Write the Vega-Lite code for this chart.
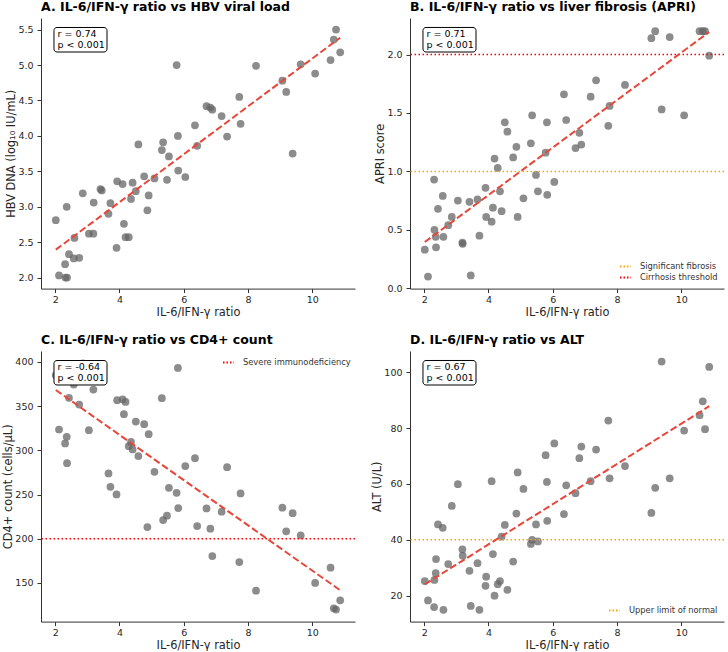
{
  "$schema": "https://vega.github.io/schema/vega-lite/v6.json",
  "padding": {"left": 2, "top": 1, "right": 0, "bottom": 0},
  "config": {
    "font": "DejaVu Sans",
    "view": {"stroke": null},
    "axis": {
      "grid": false,
      "labelFontSize": 9.5,
      "labelColor": "#262626",
      "labelOverlap": false,
      "tickCount": 12,
      "titleFontSize": 11.4,
      "titleFontWeight": "normal",
      "titleColor": "#262626",
      "domainColor": "#333333",
      "tickColor": "#333333",
      "domainWidth": 1,
      "tickWidth": 1,
      "tickSize": 4
    },
    "axisX": {"labelPadding": 2, "titlePadding": 2.5},
    "axisY": {"labelPadding": 4, "titlePadding": 1.2},
    "title": {
      "fontSize": 12.5,
      "fontWeight": "bold",
      "anchor": "start",
      "frame": "group",
      "baseline": "alphabetic",
      "offset": 4.5,
      "color": "#000000"
    },
    "legend": {
      "title": null,
      "labelFontSize": 8.3,
      "labelColor": "#333333",
      "symbolType": "stroke",
      "symbolStrokeWidth": 2,
      "symbolDash": [1.5, 2],
      "symbolSize": 121,
      "labelOffset": 8,
      "rowPadding": 0,
      "padding": 0,
      "offset": 6
    }
  },
  "datasets": {
    "patients": [
      {"ratio": 2.02, "hbv": 2.81, "apri": 0.33, "cd4": 385, "alt": 25.2},
      {"ratio": 2.12, "hbv": 2.03, "apri": 0.10, "cd4": 323.6, "alt": 18.3},
      {"ratio": 2.31, "hbv": 2.19, "apri": 0.93, "cd4": 307.8, "alt": 15.9},
      {"ratio": 2.32, "hbv": 2.00, "apri": 0.50, "cd4": 392, "alt": 25.6},
      {"ratio": 2.36, "hbv": 3.00, "apri": 0.44, "cd4": 315.3, "alt": 28.1},
      {"ratio": 2.37, "hbv": 2.00, "apri": 0.35, "cd4": 285.5, "alt": 33.1},
      {"ratio": 2.43, "hbv": 2.33, "apri": 0.68, "cd4": 359.5, "alt": 45.5},
      {"ratio": 2.58, "hbv": 2.27, "apri": 0.79, "cd4": 374.4, "alt": 44.3},
      {"ratio": 2.60, "hbv": 2.56, "apri": 0.44, "cd4": 381, "alt": 14.9},
      {"ratio": 2.75, "hbv": 2.28, "apri": 0.54, "cd4": 351.8, "alt": 31.3},
      {"ratio": 2.86, "hbv": 3.19, "apri": 0.61, "cd4": 398.5, "alt": 52.1},
      {"ratio": 3.05, "hbv": 2.62, "apri": 0.75, "cd4": 322.8, "alt": 59.9},
      {"ratio": 3.19, "hbv": 2.62, "apri": 0.39, "cd4": 368.8, "alt": 36.6},
      {"ratio": 3.20, "hbv": 3.06, "apri": 0.38, "cd4": 388, "alt": 34.3},
      {"ratio": 3.41, "hbv": 3.25, "apri": 0.74, "cd4": 383, "alt": 28.9},
      {"ratio": 3.45, "hbv": 3.23, "apri": 0.11, "cd4": 395, "alt": 16.3},
      {"ratio": 3.66, "hbv": 2.90, "apri": 0.76, "cd4": 273.9, "alt": 31.6},
      {"ratio": 3.72, "hbv": 3.05, "apri": 0.45, "cd4": 258.8, "alt": 14.9},
      {"ratio": 3.91, "hbv": 2.42, "apri": 0.86, "cd4": 250.2, "alt": 23.5},
      {"ratio": 3.93, "hbv": 3.36, "apri": 0.61, "cd4": 356.7, "alt": 26.8},
      {"ratio": 4.10, "hbv": 3.32, "apri": 0.57, "cd4": 357.8, "alt": 61.0},
      {"ratio": 4.14, "hbv": 2.76, "apri": 0.69, "cd4": 340.9, "alt": 34.9},
      {"ratio": 4.19, "hbv": 2.57, "apri": 1.11, "cd4": 354.8, "alt": 20.0},
      {"ratio": 4.29, "hbv": 2.57, "apri": 1.03, "cd4": 304.7, "alt": 24.1},
      {"ratio": 4.36, "hbv": 3.11, "apri": 0.83, "cd4": 309.6, "alt": 25.2},
      {"ratio": 4.41, "hbv": 3.34, "apri": 0.66, "cd4": 301.0, "alt": 41.1},
      {"ratio": 4.51, "hbv": 3.22, "apri": 1.42, "cd4": 332.6, "alt": 45.3},
      {"ratio": 4.59, "hbv": 3.88, "apri": 1.34, "cd4": 293.5, "alt": 22.1},
      {"ratio": 4.77, "hbv": 3.43, "apri": 1.12, "cd4": 329.6, "alt": 32.2},
      {"ratio": 4.87, "hbv": 2.95, "apri": 1.21, "cd4": 213.3, "alt": 49.4},
      {"ratio": 4.91, "hbv": 3.16, "apri": 0.61, "cd4": 318.3, "alt": 64.1},
      {"ratio": 5.09, "hbv": 3.40, "apri": 0.77, "cd4": 275.8, "alt": 58.2},
      {"ratio": 5.32, "hbv": 3.80, "apri": 1.24, "cd4": 359.0, "alt": 38.5},
      {"ratio": 5.36, "hbv": 3.91, "apri": 1.48, "cd4": 221.2, "alt": 40.0},
      {"ratio": 5.48, "hbv": 3.38, "apri": 0.97, "cd4": 226.1, "alt": 45.5},
      {"ratio": 5.54, "hbv": 3.71, "apri": 0.83, "cd4": 257.7, "alt": 39.4},
      {"ratio": 5.78, "hbv": 5.00, "apri": 1.16, "cd4": 252.0, "alt": 70.3},
      {"ratio": 5.82, "hbv": 4.00, "apri": 1.42, "cd4": 393.2, "alt": 60.7},
      {"ratio": 5.83, "hbv": 3.51, "apri": 0.80, "cd4": 234.7, "alt": 46.8},
      {"ratio": 6.05, "hbv": 3.42, "apri": 0.91, "cd4": 282.2, "alt": 74.5},
      {"ratio": 6.35, "hbv": 4.15, "apri": 1.66, "cd4": 291.2, "alt": 49.2},
      {"ratio": 6.42, "hbv": 3.86, "apri": 1.44, "cd4": 214.4, "alt": 59.5},
      {"ratio": 6.71, "hbv": 4.42, "apri": 1.20, "cd4": 234.3, "alt": 56.7},
      {"ratio": 6.83, "hbv": 4.40, "apri": 1.33, "cd4": 211.4, "alt": 69.2},
      {"ratio": 6.89, "hbv": 4.37, "apri": 1.23, "cd4": 180.5, "alt": 73.4},
      {"ratio": 7.18, "hbv": 4.28, "apri": 1.64, "cd4": 230.6, "alt": 61.0},
      {"ratio": 7.35, "hbv": 3.99, "apri": 1.78, "cd4": 281.0, "alt": 72.3},
      {"ratio": 7.73, "hbv": 4.55, "apri": 1.39, "cd4": 173.7, "alt": 82.7},
      {"ratio": 7.77, "hbv": 4.17, "apri": 1.56, "cd4": 251.3, "alt": 62.0},
      {"ratio": 8.25, "hbv": 4.99, "apri": 1.74, "cd4": 141.3, "alt": 66.4},
      {"ratio": 9.07, "hbv": 4.78, "apri": 2.14, "cd4": 235.1, "alt": 49.6},
      {"ratio": 9.19, "hbv": 4.62, "apri": 2.20, "cd4": 208.4, "alt": 58.6},
      {"ratio": 9.39, "hbv": 3.75, "apri": 1.53, "cd4": 229.0, "alt": 103.8},
      {"ratio": 9.64, "hbv": 5.01, "apri": 2.15, "cd4": 203.8, "alt": 62.0},
      {"ratio": 10.09, "hbv": 4.88, "apri": 1.48, "cd4": 150.0, "alt": 79.1},
      {"ratio": 10.57, "hbv": 5.07, "apri": 2.20, "cd4": 167.3, "alt": 84.6},
      {"ratio": 10.67, "hbv": 5.36, "apri": 2.20, "cd4": 121.4, "alt": 89.6},
      {"ratio": 10.74, "hbv": 5.50, "apri": 2.20, "cd4": 119.9, "alt": 79.6},
      {"ratio": 10.87, "hbv": 5.18, "apri": 1.99, "cd4": 130.4, "alt": 101.9}
    ]
  },
  "columns": 2,
  "spacing": {"row": 62, "column": 55},
  "bounds": "flush",
  "resolve": {
    "scale": {"x": "independent", "y": "independent", "color": "independent"},
    "axis": {"x": "independent", "y": "independent"},
    "legend": {"color": "independent"}
  },
  "concat": [
    {
      "title": "A. IL-6/IFN-γ ratio vs HBV viral load",
      "width": 314,
      "height": 270.6,
      "layer": [
        {
          "data": {"name": "patients"},
          "mark": {"type": "circle", "size": 60, "color": "#666666", "opacity": 0.75},
          "encoding": {
            "x": {"field": "ratio", "type": "quantitative", "title": "IL-6/IFN-γ ratio", "scale": {"domain": [1.56, 11.33], "nice": false, "zero": false}, "axis": {"values": [2, 4, 6, 8, 10]}},
            "y": {"field": "hbv", "type": "quantitative", "title": "HBV DNA (log₁₀ IU/mL)", "scale": {"domain": [1.845, 5.664], "nice": false, "zero": false}, "axis": {"values": [2, 2.5, 3, 3.5, 4, 4.5, 5, 5.5], "format": ".1f", "tickCount": 12}}
          }
        },
        {
          "data": {"name": "patients"},
          "transform": [{"regression": "hbv", "on": "ratio"}],
          "mark": {"type": "line", "color": "#e8463a", "strokeWidth": 2, "strokeDash": [7, 3]},
          "encoding": {
            "x": {"field": "ratio", "type": "quantitative", "title": "IL-6/IFN-γ ratio", "scale": {"domain": [1.56, 11.33], "nice": false, "zero": false}},
            "y": {"field": "hbv", "type": "quantitative", "title": "HBV DNA (log₁₀ IU/mL)", "scale": {"domain": [1.845, 5.664], "nice": false, "zero": false}}
          }
        },
        {
          "data": {"values": [{}]},
          "mark": {"type": "rect", "fill": "white", "stroke": "black", "strokeWidth": 1, "cornerRadius": 3},
          "encoding": {"x": {"datum": 1.964}, "x2": {"datum": 3.614}, "y": {"datum": 5.530}, "y2": {"datum": 5.184}}
        },
        {
          "data": {"values": [{}]},
          "mark": {"type": "text", "align": "left", "baseline": "middle", "fontSize": 9.5, "lineHeight": 10.7, "color": "#000000", "text": ["r = 0.74", "p < 0.001"]},
          "encoding": {"x": {"datum": 2.073}, "y": {"datum": 5.438}}
        }
      ]
    },
    {
      "title": "B. IL-6/IFN-γ ratio vs liver fibrosis (APRI)",
      "width": 314,
      "height": 270.6,
      "layer": [
        {
          "data": {"name": "patients"},
          "mark": {"type": "circle", "size": 60, "color": "#666666", "opacity": 0.75},
          "encoding": {
            "x": {"field": "ratio", "type": "quantitative", "title": "IL-6/IFN-γ ratio", "scale": {"domain": [1.56, 11.33], "nice": false, "zero": false}, "axis": {"values": [2, 4, 6, 8, 10]}},
            "y": {"field": "apri", "type": "quantitative", "title": "APRI score", "scale": {"domain": [-0.003, 2.313], "nice": false, "zero": false}, "axis": {"values": [0, 0.5, 1, 1.5, 2], "format": ".1f"}}
          }
        },
        {
          "data": {"values": [
            {"threshold": 1.0, "label": "Significant fibrosis"},
            {"threshold": 2.0, "label": "Cirrhosis threshold"}
          ]},
          "mark": {"type": "rule", "strokeWidth": 1.5, "strokeDash": [1.5, 2.5]},
          "encoding": {
            "y": {"field": "threshold", "type": "quantitative", "title": "APRI score", "scale": {"domain": [-0.003, 2.313], "nice": false, "zero": false}},
            "color": {"field": "label", "type": "nominal", "scale": {"domain": ["Significant fibrosis", "Cirrhosis threshold"], "range": ["#ffa500", "#ff0000"]}, "legend": {"orient": "bottom-right", "offset": 6.5}}
          }
        },
        {
          "data": {"name": "patients"},
          "transform": [{"regression": "apri", "on": "ratio"}],
          "mark": {"type": "line", "color": "#e8463a", "strokeWidth": 2, "strokeDash": [7, 3]},
          "encoding": {
            "x": {"field": "ratio", "type": "quantitative", "title": "IL-6/IFN-γ ratio", "scale": {"domain": [1.56, 11.33], "nice": false, "zero": false}},
            "y": {"field": "apri", "type": "quantitative", "title": "APRI score", "scale": {"domain": [-0.003, 2.313], "nice": false, "zero": false}}
          }
        },
        {
          "data": {"values": [{}]},
          "mark": {"type": "rect", "fill": "white", "stroke": "black", "strokeWidth": 1, "cornerRadius": 3},
          "encoding": {"x": {"datum": 1.964}, "x2": {"datum": 3.614}, "y": {"datum": 2.232}, "y2": {"datum": 2.022}}
        },
        {
          "data": {"values": [{}]},
          "mark": {"type": "text", "align": "left", "baseline": "middle", "fontSize": 9.5, "lineHeight": 10.7, "color": "#000000", "text": ["r = 0.71", "p < 0.001"]},
          "encoding": {"x": {"datum": 2.073}, "y": {"datum": 2.176}}
        }
      ]
    },
    {
      "title": "C. IL-6/IFN-γ ratio vs CD4+ count",
      "width": 314,
      "height": 270.6,
      "layer": [
        {
          "data": {"name": "patients"},
          "mark": {"type": "circle", "size": 60, "color": "#666666", "opacity": 0.75},
          "encoding": {
            "x": {"field": "ratio", "type": "quantitative", "title": "IL-6/IFN-γ ratio", "scale": {"domain": [1.56, 11.33], "nice": false, "zero": false}, "axis": {"values": [2, 4, 6, 8, 10]}},
            "y": {"field": "cd4", "type": "quantitative", "title": "CD4+ count (cells/μL)", "scale": {"domain": [106.3, 412.4], "nice": false, "zero": false}, "axis": {"values": [150, 200, 250, 300, 350, 400]}}
          }
        },
        {
          "data": {"values": [{"threshold": 200, "label": "Severe immunodeficiency"}]},
          "mark": {"type": "rule", "strokeWidth": 1.5, "strokeDash": [1.5, 2.5]},
          "encoding": {
            "y": {"field": "threshold", "type": "quantitative", "title": "CD4+ count (cells/μL)", "scale": {"domain": [106.3, 412.4], "nice": false, "zero": false}},
            "color": {"field": "label", "type": "nominal", "scale": {"domain": ["Severe immunodeficiency"], "range": ["#ff0000"]}, "legend": {"orient": "top-right", "offset": 4.5}}
          }
        },
        {
          "data": {"name": "patients"},
          "transform": [{"regression": "cd4", "on": "ratio"}],
          "mark": {"type": "line", "color": "#e8463a", "strokeWidth": 2, "strokeDash": [7, 3]},
          "encoding": {
            "x": {"field": "ratio", "type": "quantitative", "title": "IL-6/IFN-γ ratio", "scale": {"domain": [1.56, 11.33], "nice": false, "zero": false}},
            "y": {"field": "cd4", "type": "quantitative", "title": "CD4+ count (cells/μL)", "scale": {"domain": [106.3, 412.4], "nice": false, "zero": false}}
          }
        },
        {
          "data": {"values": [{}]},
          "mark": {"type": "rect", "fill": "white", "stroke": "black", "strokeWidth": 1, "cornerRadius": 3},
          "encoding": {"x": {"datum": 1.964}, "x2": {"datum": 3.614}, "y": {"datum": 401.65}, "y2": {"datum": 373.94}}
        },
        {
          "data": {"values": [{}]},
          "mark": {"type": "text", "align": "left", "baseline": "middle", "fontSize": 9.5, "lineHeight": 10.7, "color": "#000000", "text": ["r = -0.64", "p < 0.001"]},
          "encoding": {"x": {"datum": 2.073}, "y": {"datum": 394.3}}
        }
      ]
    },
    {
      "title": "D. IL-6/IFN-γ ratio vs ALT",
      "width": 314,
      "height": 270.6,
      "layer": [
        {
          "data": {"name": "patients"},
          "mark": {"type": "circle", "size": 60, "color": "#666666", "opacity": 0.75},
          "encoding": {
            "x": {"field": "ratio", "type": "quantitative", "title": "IL-6/IFN-γ ratio", "scale": {"domain": [1.56, 11.33], "nice": false, "zero": false}, "axis": {"values": [2, 4, 6, 8, 10]}},
            "y": {"field": "alt", "type": "quantitative", "title": "ALT (U/L)", "scale": {"domain": [10.7, 107.6], "nice": false, "zero": false}, "axis": {"values": [20, 40, 60, 80, 100]}}
          }
        },
        {
          "data": {"values": [{"threshold": 40, "label": "Upper limit of normal"}]},
          "mark": {"type": "rule", "strokeWidth": 1.5, "strokeDash": [1.5, 2.5]},
          "encoding": {
            "y": {"field": "threshold", "type": "quantitative", "title": "ALT (U/L)", "scale": {"domain": [10.7, 107.6], "nice": false, "zero": false}},
            "color": {"field": "label", "type": "nominal", "scale": {"domain": ["Upper limit of normal"], "range": ["#ffa500"]}, "legend": {"orient": "bottom-right", "offset": 6.5}}
          }
        },
        {
          "data": {"name": "patients"},
          "transform": [{"regression": "alt", "on": "ratio"}],
          "mark": {"type": "line", "color": "#e8463a", "strokeWidth": 2, "strokeDash": [7, 3]},
          "encoding": {
            "x": {"field": "ratio", "type": "quantitative", "title": "IL-6/IFN-γ ratio", "scale": {"domain": [1.56, 11.33], "nice": false, "zero": false}},
            "y": {"field": "alt", "type": "quantitative", "title": "ALT (U/L)", "scale": {"domain": [10.7, 107.6], "nice": false, "zero": false}}
          }
        },
        {
          "data": {"values": [{}]},
          "mark": {"type": "rect", "fill": "white", "stroke": "black", "strokeWidth": 1, "cornerRadius": 3},
          "encoding": {"x": {"datum": 1.964}, "x2": {"datum": 3.614}, "y": {"datum": 104.2}, "y2": {"datum": 95.42}}
        },
        {
          "data": {"values": [{}]},
          "mark": {"type": "text", "align": "left", "baseline": "middle", "fontSize": 9.5, "lineHeight": 10.7, "color": "#000000", "text": ["r = 0.67", "p < 0.001"]},
          "encoding": {"x": {"datum": 2.073}, "y": {"datum": 101.87}}
        }
      ]
    }
  ]
}
